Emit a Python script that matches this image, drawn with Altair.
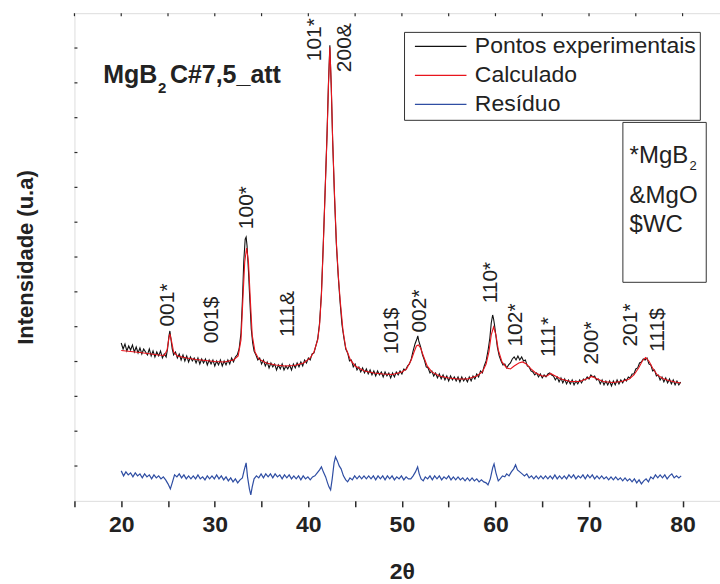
import altair as alt
import pandas as pd

# ---------------- data (2theta, intensity in a.u.) ----------------
exp_points = [
    (20.0, 158), (20.2, 152), (20.4, 157), (20.6, 150), (20.8, 155), (21.0, 151), (21.2, 156), (21.4, 149),
    (21.6, 154), (21.8, 148), (22.0, 153), (22.2, 147), (22.4, 152), (22.6, 149), (22.8, 146), (23.0, 152),
    (23.2, 145), (23.4, 150), (23.6, 144), (23.8, 149), (24.0, 145), (24.2, 150), (24.4, 143), (24.6, 147),
    (24.8, 144), (24.95, 152), (25.1, 165), (25.2, 170), (25.3, 163), (25.45, 152), (25.6, 146), (25.8, 149),
    (26.0, 143), (26.2, 147), (26.4, 141), (26.6, 146), (26.8, 140), (27.0, 145), (27.2, 139), (27.4, 144),
    (27.6, 140), (27.8, 143), (28.0, 138), (28.2, 143), (28.4, 137), (28.6, 142), (28.8, 138), (29.0, 142),
    (29.2, 136), (29.4, 141), (29.6, 137), (29.8, 141), (30.0, 135), (30.2, 140), (30.4, 136), (30.6, 141),
    (30.8, 135), (31.0, 140), (31.2, 136), (31.4, 141), (31.6, 137), (31.8, 143), (32.0, 139), (32.2, 144),
    (32.4, 146), (32.6, 152), (32.8, 168), (32.95, 200), (33.1, 240), (33.25, 262), (33.35, 264), (33.45, 255),
    (33.6, 230), (33.75, 200), (33.9, 172), (34.05, 158), (34.2, 150), (34.4, 146), (34.6, 141), (34.8, 143),
    (35.0, 137), (35.2, 141), (35.4, 135), (35.6, 139), (35.8, 133), (36.0, 138), (36.2, 134), (36.4, 137),
    (36.6, 131), (36.8, 136), (37.0, 132), (37.2, 137), (37.4, 131), (37.6, 135), (37.8, 132), (38.0, 136),
    (38.2, 131), (38.4, 137), (38.6, 133), (38.8, 138), (39.0, 134), (39.2, 139), (39.4, 135), (39.6, 141),
    (39.8, 138), (40.0, 143), (40.2, 141), (40.4, 147), (40.6, 148), (40.8, 155), (41.0, 162), (41.2, 178),
    (41.4, 208), (41.6, 258), (41.8, 312), (42.0, 368), (42.15, 418), (42.3, 456), (42.45, 414), (42.6, 360),
    (42.8, 303), (43.0, 256), (43.2, 224), (43.4, 198), (43.6, 176), (43.8, 163), (44.0, 152), (44.2, 148),
    (44.4, 140), (44.6, 141), (44.8, 134), (45.0, 137), (45.2, 131), (45.4, 134), (45.6, 129), (45.8, 133),
    (46.0, 128), (46.2, 132), (46.4, 127), (46.6, 131), (46.8, 126), (47.0, 130), (47.2, 125), (47.4, 130),
    (47.6, 126), (47.8, 129), (48.0, 124), (48.2, 129), (48.4, 125), (48.6, 128), (48.8, 123), (49.0, 128),
    (49.2, 124), (49.4, 129), (49.6, 126), (49.8, 130), (50.0, 127), (50.2, 132), (50.4, 131), (50.6, 135),
    (50.8, 137), (51.0, 142), (51.2, 150), (51.4, 157), (51.6, 162), (51.7, 165), (51.8, 160), (52.0, 154),
    (52.2, 146), (52.4, 141), (52.6, 134), (52.8, 133), (53.0, 128), (53.2, 130), (53.4, 125), (53.6, 128),
    (53.8, 123), (54.0, 127), (54.2, 122), (54.4, 126), (54.6, 121), (54.8, 125), (55.0, 120), (55.2, 125),
    (55.4, 121), (55.6, 124), (55.8, 120), (56.0, 124), (56.2, 119), (56.4, 124), (56.6, 120), (56.8, 123),
    (57.0, 119), (57.2, 124), (57.4, 120), (57.6, 125), (57.8, 122), (58.0, 127), (58.2, 124), (58.4, 130),
    (58.6, 128), (58.8, 135), (59.0, 140), (59.2, 150), (59.4, 163), (59.55, 178), (59.7, 186), (59.8, 182),
    (59.9, 176), (60.05, 165), (60.2, 154), (60.4, 145), (60.6, 140), (60.8, 136), (61.0, 137), (61.2, 133),
    (61.4, 136), (61.6, 138), (61.8, 142), (62.0, 144), (62.2, 141), (62.4, 145), (62.6, 141), (62.8, 144),
    (63.0, 140), (63.2, 141), (63.4, 135), (63.6, 134), (63.8, 130), (64.0, 129), (64.2, 126), (64.4, 128),
    (64.6, 124), (64.8, 127), (65.0, 123), (65.2, 126), (65.4, 124), (65.6, 127), (65.8, 128), (66.0, 126),
    (66.2, 125), (66.4, 121), (66.6, 124), (66.8, 119), (67.0, 123), (67.2, 118), (67.4, 122), (67.6, 117),
    (67.8, 121), (68.0, 117), (68.2, 121), (68.4, 116), (68.6, 120), (68.8, 117), (69.0, 121), (69.2, 118),
    (69.4, 122), (69.6, 121), (69.8, 124), (70.0, 122), (70.2, 126), (70.4, 124), (70.6, 125), (70.8, 121),
    (71.0, 122), (71.2, 117), (71.4, 121), (71.6, 116), (71.8, 120), (72.0, 116), (72.2, 120), (72.4, 115),
    (72.6, 120), (72.8, 116), (73.0, 121), (73.2, 117), (73.4, 121), (73.6, 118), (73.8, 122), (74.0, 120),
    (74.2, 124), (74.4, 123), (74.6, 127), (74.8, 127), (75.0, 132), (75.2, 133), (75.4, 138), (75.6, 139),
    (75.8, 142), (76.0, 141), (76.2, 143), (76.4, 137), (76.6, 136), (76.8, 130), (77.0, 131), (77.2, 125),
    (77.4, 126), (77.6, 121), (77.8, 124), (78.0, 119), (78.2, 123), (78.4, 118), (78.6, 122), (78.8, 117),
    (79.0, 121), (79.2, 116), (79.4, 120), (79.6, 116), (79.8, 119),
]

calc_points = [
    (20.0, 150.5), (22.0, 148.5), (24.0, 146), (24.6, 145.5), (24.9, 151), (25.1, 163), (25.2, 167),
    (25.35, 161), (25.6, 149), (26.0, 145), (27.0, 143), (28.0, 141.5), (29.0, 140.5), (30.0, 139.5),
    (31.0, 139), (32.0, 141), (32.5, 145), (32.8, 161), (33.0, 201), (33.2, 239), (33.4, 253), (33.6, 239),
    (33.8, 201), (34.0, 166), (34.3, 149), (34.7, 142), (35.5, 138), (36.5, 136), (37.5, 135), (38.5, 135.5),
    (39.5, 138), (40.2, 143), (40.6, 149), (41.0, 161), (41.2, 176), (41.4, 206), (41.6, 256), (41.8, 311),
    (42.0, 366), (42.15, 416), (42.3, 454), (42.45, 416), (42.6, 361), (42.8, 306), (43.0, 258), (43.2, 226),
    (43.4, 201), (43.7, 171), (44.0, 153), (44.5, 141), (45.0, 135), (46.0, 130), (47.0, 128), (48.0, 127),
    (49.0, 126.5), (50.0, 129), (50.5, 132), (51.0, 141), (51.3, 149), (51.55, 155), (51.75, 156), (52.0, 153),
    (52.3, 145), (52.7, 135), (53.2, 129), (54.0, 125), (55.0, 123), (56.0, 122), (57.0, 122), (58.0, 125),
    (58.6, 129), (59.0, 137), (59.3, 149), (59.55, 166), (59.8, 174), (60.05, 166), (60.3, 151), (60.7, 139),
    (61.2, 133), (61.6, 132), (62.0, 135), (62.5, 138), (62.9, 139), (63.3, 137), (63.8, 132), (64.3, 128),
    (65.0, 125), (65.5, 125), (65.9, 127.5), (66.3, 125.5), (67.0, 122), (68.0, 119.5), (69.0, 119.5),
    (69.7, 122), (70.3, 124.5), (70.9, 122), (71.5, 119.5), (72.5, 118.5), (73.5, 119.5), (74.3, 122),
    (74.8, 126), (75.3, 133), (75.7, 140), (76.05, 143.5), (76.4, 140), (76.8, 133), (77.3, 126),
    (77.9, 122.5), (78.5, 120.5), (79.2, 119), (79.8, 118),
]

res_points = [
    (20.0, 30), (20.25, 25), (20.5, 29), (20.75, 26), (21.0, 28), (21.25, 24), (21.5, 28), (21.75, 25),
    (22.0, 27), (22.25, 23), (22.5, 27), (22.75, 24), (23.0, 26), (23.25, 22), (23.5, 26), (23.75, 23),
    (24.0, 25), (24.25, 22), (24.5, 24), (24.75, 21), (25.0, 17), (25.25, 12), (25.45, 18), (25.7, 26),
    (25.95, 24), (26.2, 27), (26.45, 23), (26.7, 26), (26.95, 22), (27.2, 25), (27.45, 22), (27.7, 25),
    (27.95, 22), (28.2, 26), (28.45, 22), (28.7, 24), (28.95, 21), (29.2, 25), (29.45, 22), (29.7, 25),
    (29.95, 22), (30.2, 26), (30.45, 22), (30.7, 25), (30.95, 21), (31.2, 24), (31.45, 20), (31.7, 23),
    (31.95, 19), (32.2, 22), (32.45, 18), (32.7, 21), (32.95, 23), (33.15, 31), (33.35, 38), (33.5, 24),
    (33.7, 12), (33.85, 6), (34.0, 14), (34.2, 22), (34.45, 25), (34.7, 23), (34.95, 27), (35.2, 23),
    (35.45, 27), (35.7, 24), (35.95, 27), (36.2, 23), (36.45, 27), (36.7, 24), (36.95, 26), (37.2, 22),
    (37.45, 26), (37.7, 23), (37.95, 26), (38.2, 22), (38.45, 25), (38.7, 22), (38.95, 25), (39.2, 21),
    (39.45, 25), (39.7, 22), (39.95, 24), (40.2, 21), (40.45, 24), (40.7, 25), (40.95, 28), (41.2, 31),
    (41.4, 34), (41.6, 29), (41.85, 24), (42.05, 18), (42.2, 14), (42.38, 11), (42.55, 22), (42.75, 38),
    (42.9, 44), (43.1, 40), (43.3, 35), (43.5, 32), (43.75, 25), (44.0, 21), (44.2, 19), (44.45, 23),
    (44.7, 21), (44.95, 25), (45.2, 22), (45.45, 25), (45.7, 22), (45.95, 25), (46.2, 22), (46.45, 25),
    (46.7, 22), (46.95, 25), (47.2, 21), (47.45, 25), (47.7, 22), (47.95, 25), (48.2, 21), (48.45, 25),
    (48.7, 22), (48.95, 25), (49.2, 21), (49.45, 24), (49.7, 22), (49.95, 25), (50.2, 21), (50.45, 24),
    (50.7, 22), (50.95, 22), (51.2, 25), (51.45, 29), (51.68, 34), (51.85, 27), (52.05, 22), (52.28, 20),
    (52.5, 24), (52.75, 22), (53.0, 25), (53.25, 21), (53.5, 25), (53.75, 22), (54.0, 25), (54.25, 21),
    (54.5, 24), (54.75, 22), (55.0, 25), (55.25, 21), (55.5, 24), (55.75, 21), (56.0, 24), (56.25, 21),
    (56.5, 23), (56.75, 20), (57.0, 23), (57.25, 20), (57.5, 23), (57.75, 20), (58.0, 22), (58.25, 19),
    (58.5, 21), (58.75, 19), (59.0, 18), (59.2, 16), (59.45, 22), (59.7, 33), (59.85, 37), (60.05, 28),
    (60.3, 20), (60.5, 22), (60.75, 25), (61.0, 24), (61.2, 27), (61.45, 25), (61.7, 29), (61.95, 32),
    (62.15, 36), (62.35, 31), (62.6, 29), (62.85, 27), (63.1, 25), (63.35, 27), (63.6, 23), (63.85, 25),
    (64.1, 22), (64.35, 25), (64.6, 22), (64.85, 25), (65.1, 22), (65.35, 25), (65.6, 22), (65.85, 25),
    (66.1, 22), (66.35, 26), (66.6, 22), (66.85, 25), (67.1, 22), (67.35, 25), (67.6, 22), (67.85, 26),
    (68.1, 23), (68.35, 26), (68.6, 22), (68.85, 25), (69.1, 23), (69.35, 26), (69.6, 22), (69.85, 26),
    (70.1, 23), (70.35, 26), (70.6, 22), (70.85, 25), (71.1, 22), (71.35, 25), (71.6, 22), (71.85, 24),
    (72.1, 21), (72.35, 24), (72.6, 21), (72.85, 24), (73.1, 21), (73.35, 23), (73.6, 20), (73.85, 23),
    (74.1, 20), (74.35, 22), (74.6, 19), (74.85, 22), (75.1, 18), (75.35, 21), (75.6, 17), (75.85, 20),
    (76.1, 22), (76.35, 19), (76.6, 24), (76.85, 22), (77.1, 26), (77.35, 23), (77.6, 26), (77.85, 23),
    (78.1, 26), (78.35, 22), (78.6, 25), (78.85, 27), (79.1, 23), (79.35, 25), (79.6, 23), (79.85, 25),
]

series_names = ["Pontos experimentais", "Calculado", "Resíduo"]
series_colors = ["#111111", "#e8141c", "#2f4ea3"]

# peak labels (hkl + phase symbol)
peak_text = ["001*", "001$", "100*", "111&", "101*", "200&", "101$", "002*",
             "110*", "102*", "111*", "200*", "201*", "111$"]
peak_x = [24.96, 29.65, 33.43, 37.8, 40.7, 43.9, 48.9, 51.9,
          59.5, 62.2, 65.7, 70.3, 74.5, 77.4]
peak_y = [196, 181, 293.5, 187, 461.5, 453.5, 170, 190,
          218.5, 176, 164, 158, 176, 171]

# sample name  MgB2C#7,5_att
name_text = ["MgB", "C#7,5_att"]
name_x = [18.08, 25.2]
name_y = [418, 418]
name_sub_text = ["2"]
name_sub_x = [23.92]
name_sub_y = [408]

# phase key box
key_text = ["*MgB", "&MgO", "$WC"]
key_x = [74.34, 74.34, 74.34]
key_y = [338, 298, 269]
key_sub_text = ["2"]
key_sub_x = [80.74]
key_sub_y = [331]
key_box = {"x": [73.62], "x2": [82.53], "y": [378.7], "y2": [218.7]}

x_ticks = list(range(15, 85, 5))
y_ticks = [488 * k / 14 for k in range(1, 14)]

# ---------------- frames ----------------
def frame(points, name):
    return pd.DataFrame({"x": [p[0] for p in points], "y": [p[1] for p in points], "serie": name})

df_exp = frame(exp_points, series_names[0])
df_calc = frame(calc_points, series_names[1])
df_res = frame(res_points, series_names[2])

FONT = "Liberation Sans"
INK = "#222222"

xscale = alt.Scale(domain=[15, 84], nice=False, zero=False)
yscale = alt.Scale(domain=[0, 488], nice=False, zero=False)

xaxis = alt.Axis(
    values=x_ticks,
    labelExpr="(datum.value % 10 == 0 && datum.value >= 20 && datum.value <= 80) ? datum.label : ''",
    labelFont=FONT, labelFontSize=23, labelFontWeight="bold", labelColor=INK,
    labelPadding=7, labelFlush=False, labelOverlap=False,
    tickSize=6, tickWidth=1.5, tickColor="#2b2b2b",
    domain=False, grid=False,
    title="2θ", titleFont=FONT, titleFontSize=23, titleFontWeight="bold", titleColor=INK,
    titlePadding=24, titleX=327.5,
)
yaxis = alt.Axis(
    labels=False, ticks=False, domain=False, grid=False,
    title="Intensidade (u.a)", titleFont=FONT, titleFontSize=22, titleFontWeight="bold",
    titleColor=INK, titlePadding=37,
)

X = alt.X("x:Q", scale=xscale, axis=xaxis)
Y = alt.Y("y:Q", scale=yscale, axis=yaxis)

color = alt.Color(
    "serie:N",
    scale=alt.Scale(domain=series_names, range=series_colors),
    legend=alt.Legend(
        title=None, orient="none", legendX=329.8, legendY=18.7,
        strokeColor="#333333", padding=3, fillColor="white",
        symbolType="M-2.58,0H2.58", symbolSize=400, symbolStrokeWidth=1.2,
        symbolOffset=22.2, symbolFillColor="transparent",
        labelFont=FONT, labelFontSize=23, labelColor=INK, labelOffset=22.7, labelLimit=400,
        rowPadding=5,
    ),
)

exp_line = alt.Chart(df_exp).mark_line(strokeWidth=1.1).encode(x=X, y=Y, color=color)
calc_line = alt.Chart(df_calc).mark_line(strokeWidth=1.1).encode(x=X, y=Y, color=color)
res_line = alt.Chart(df_res).mark_line(strokeWidth=1.2).encode(x=X, y=Y, color=color)

top_ticks = alt.Chart(pd.DataFrame({"x": x_ticks})).mark_rule(color="#2b2b2b", strokeWidth=1.2).encode(
    x=X, y=alt.value(0), y2=alt.value(3))
left_ticks = alt.Chart(pd.DataFrame({"y": y_ticks})).mark_rule(color="#2b2b2b", strokeWidth=1.2).encode(
    y=Y, x=alt.value(0), x2=alt.value(3))

peaks = alt.Chart(pd.DataFrame({"x": peak_x, "y": peak_y, "t": peak_text})).mark_text(
    angle=270, align="center", baseline="middle", font=FONT, fontSize=21, color=INK
).encode(x=X, y=Y, text="t:N")

name_main = alt.Chart(pd.DataFrame({"x": name_x, "y": name_y, "t": name_text})).mark_text(
    align="left", baseline="alphabetic", font=FONT, fontSize=25, fontWeight="bold", color=INK
).encode(x=X, y=Y, text="t:N")
name_sub = alt.Chart(pd.DataFrame({"x": name_sub_x, "y": name_sub_y, "t": name_sub_text})).mark_text(
    align="left", baseline="alphabetic", font=FONT, fontSize=15, fontWeight="bold", color=INK
).encode(x=X, y=Y, text="t:N")

key_rect = alt.Chart(pd.DataFrame(key_box)).mark_rect(
    fill="white", stroke="#333333", strokeWidth=1
).encode(x=X, x2="x2:Q", y=Y, y2="y2:Q")
key_main = alt.Chart(pd.DataFrame({"x": key_x, "y": key_y, "t": key_text})).mark_text(
    align="left", baseline="alphabetic", font=FONT, fontSize=24, color=INK
).encode(x=X, y=Y, text="t:N")
key_sub = alt.Chart(pd.DataFrame({"x": key_sub_x, "y": key_sub_y, "t": key_sub_text})).mark_text(
    align="left", baseline="alphabetic", font=FONT, fontSize=13, color=INK
).encode(x=X, y=Y, text="t:N")

chart = alt.layer(
    top_ticks, left_ticks, exp_line, calc_line, res_line, peaks,
    name_main, name_sub, key_rect, key_main, key_sub,
).properties(
    width=646, height=488,
    padding={"left": 74.5, "top": 13, "right": 0, "bottom": 83},
    autosize=alt.AutoSizeParams(type="none"),
).configure_view(
    stroke="#2b2b2b", strokeWidth=2
).configure(
    background="white"
)

chart.save("out.html", embed_options={"renderer": "svg", "actions": False})
